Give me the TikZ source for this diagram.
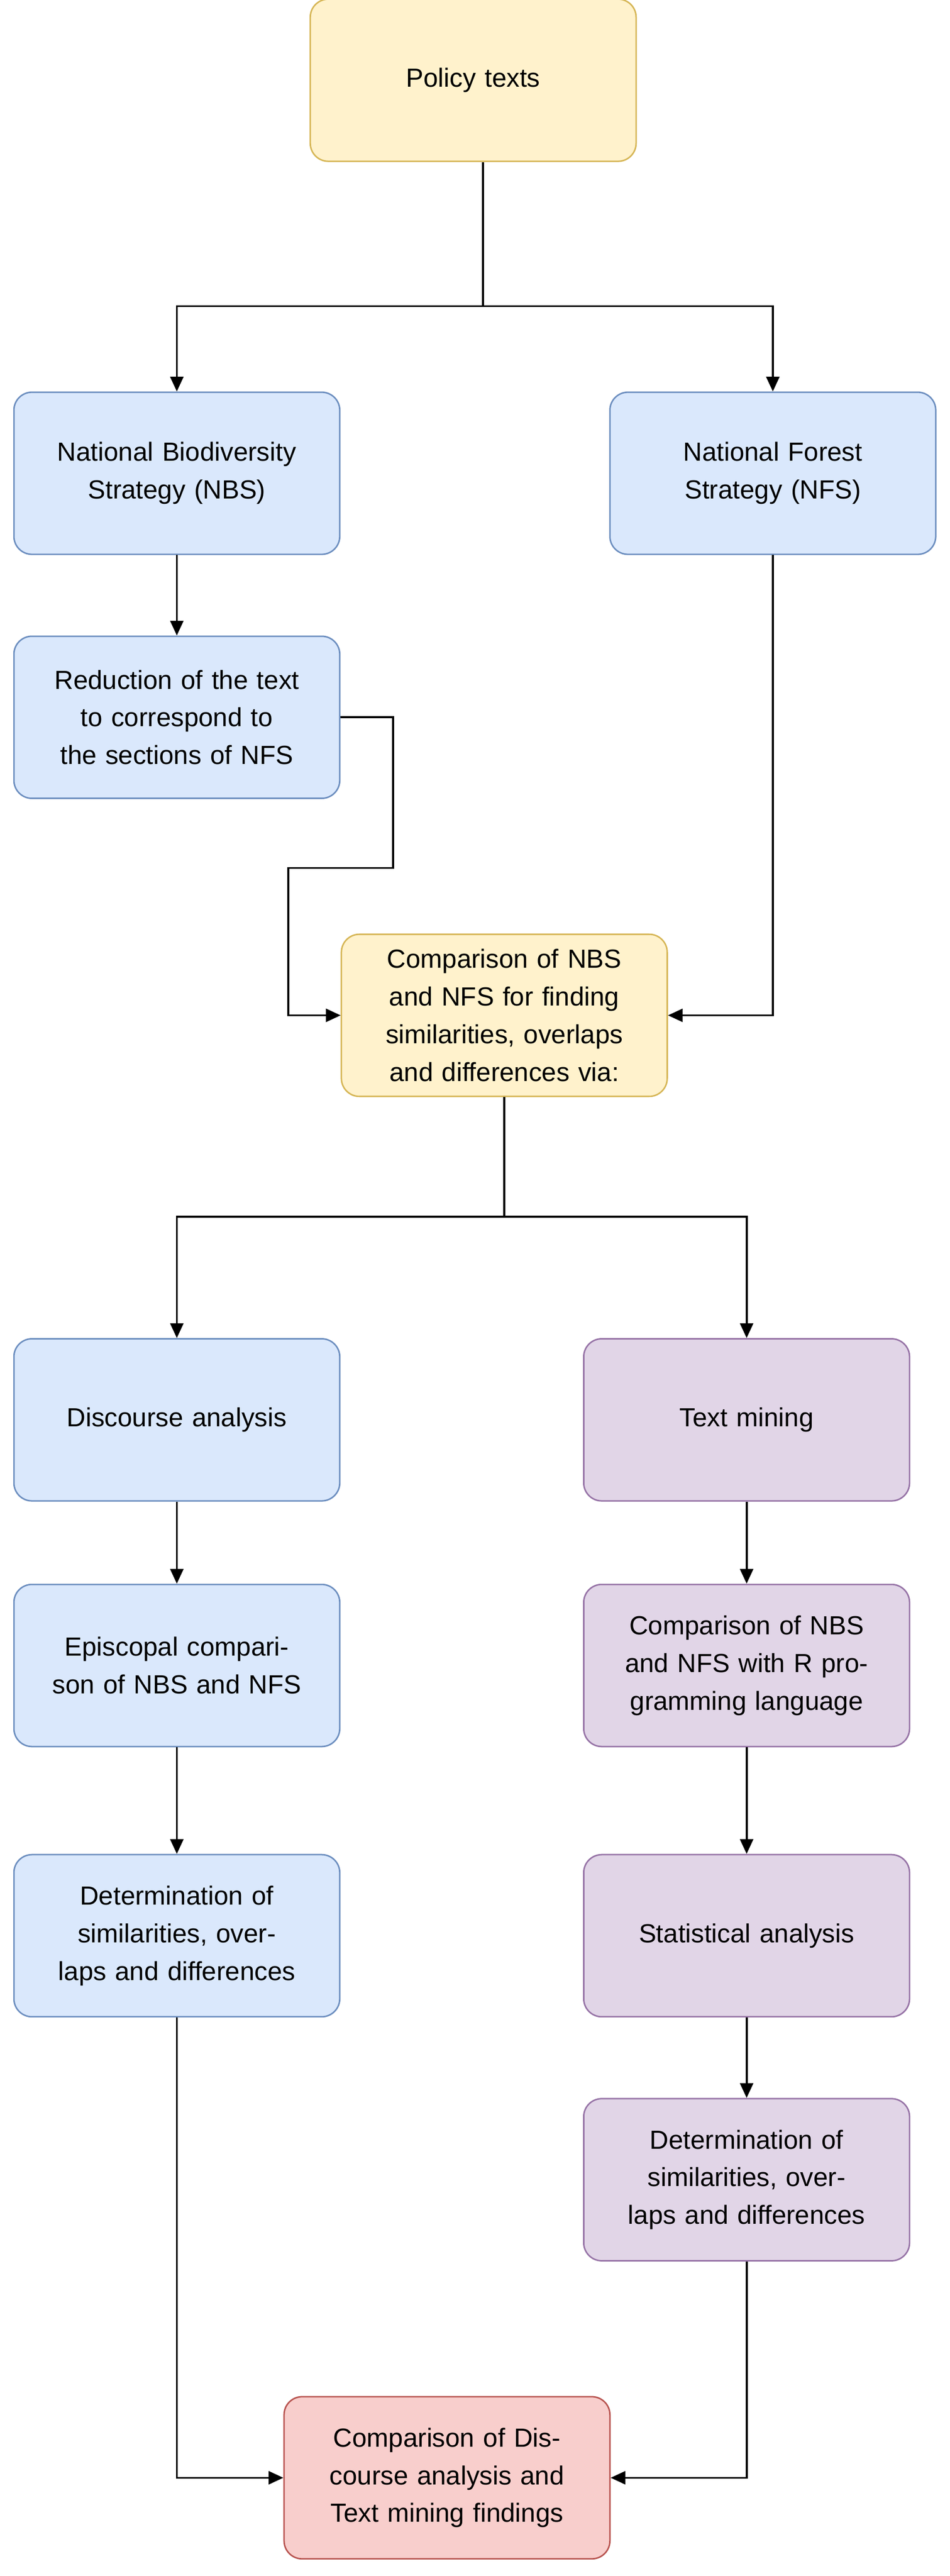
\documentclass[tikz,border=0pt]{standalone}
\usepackage{fontspec}
\setmainfont{Liberation Sans}
\usetikzlibrary{arrows.meta}
\definecolor{yf}{HTML}{FFF2CC}\definecolor{yd}{HTML}{D6B656}
\definecolor{bf}{HTML}{DAE8FC}\definecolor{bd}{HTML}{6C8EBF}
\definecolor{pf}{HTML}{E1D5E7}\definecolor{pd}{HTML}{9673A6}
\definecolor{rf}{HTML}{F8CECC}\definecolor{rd}{HTML}{B85450}
\begin{document}
\begin{tikzpicture}[x=1pt,y=-1pt,
 box/.style={draw, line width=0.9pt, rounded corners=11pt, minimum width=199pt, minimum height=99pt, align=center, text width=190pt, font=\fontsize{16}{23}\selectfont, inner sep=2pt},
 Y/.style={box, fill=yf, draw=yd}, B/.style={box, fill=bf, draw=bd},
 P/.style={box, fill=pf, draw=pd}, R/.style={box, fill=rf, draw=rd},
 ar/.style={-{Triangle[length=9pt,width=8pt]}, line width=1.2pt}]
\useasboundingbox (0,0) rectangle (580,1573);
\node[Y] (pol) at (289,49) {Policy texts};
\node[B] (nbs) at (108,289) {National Biodiversity\\Strategy (NBS)};
\node[B] (nfs) at (472,289) {National Forest\\Strategy (NFS)};
\node[B] (red) at (108,438) {Reduction of the text to correspond to the sections of NFS};
\node[Y] (cmp) at (308,620) {Comparison of NBS and NFS for finding similarities, overlaps and differences via:};
\node[B] (dis) at (108,867) {Discourse analysis};
\node[P] (tm) at (456,867) {Text mining};
\node[B] (epi) at (108,1017) {Episcopal comparison of NBS and NFS};
\node[P] (crr) at (456,1017) {Comparison of NBS and NFS with R programming language};
\node[B] (detl) at (108,1182) {Determination of similarities, overlaps and differences};
\node[P] (sta) at (456,1182) {Statistical analysis};
\node[P] (detr) at (456,1331) {Determination of similarities, overlaps and differences};
\node[R] (fin) at (273,1513) {Comparison of Discourse analysis and Text mining findings};
\coordinate (j1) at (295,187);
\draw[line width=1.2pt] (pol.south -| j1) -- (j1);
\draw[ar] (j1) -| (nbs.north);
\draw[ar] (j1) -| (nfs.north);
\draw[ar] (nbs) -- (red);
\draw[ar] (red.east) -- (240,438) -- (240,530) -- (176,530) |- (cmp.west);
\draw[ar] (nfs.south) |- (cmp.east);
\coordinate (j2) at (308,743);
\draw[line width=1.2pt] (cmp.south) -- (j2);
\draw[ar] (j2) -| (dis.north);
\draw[ar] (j2) -| (tm.north);
\draw[ar] (dis) -- (epi);
\draw[ar] (epi) -- (detl);
\draw[ar] (tm) -- (crr);
\draw[ar] (crr) -- (sta);
\draw[ar] (sta) -- (detr);
\draw[ar] (detl.south) |- (fin.west);
\draw[ar] (detr.south) |- (fin.east);
\end{tikzpicture}
\end{document}
